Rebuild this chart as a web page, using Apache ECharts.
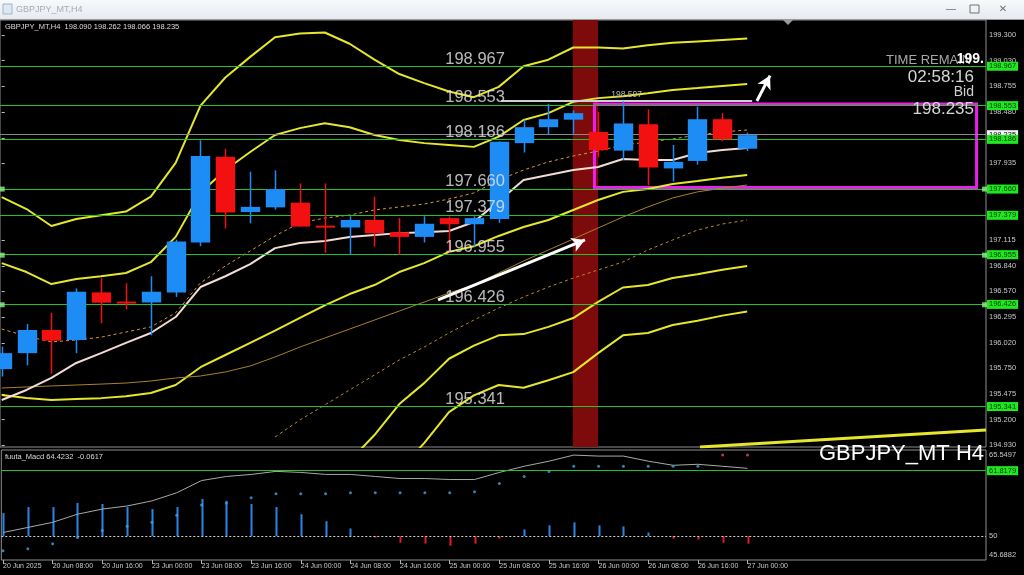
<!DOCTYPE html>
<html><head><meta charset="utf-8">
<script src="https://cdn.jsdelivr.net/npm/echarts@6/dist/echarts.min.js"></script>
<style>html,body{margin:0;padding:0;background:#000;overflow:hidden}#c{width:1024px;height:575px}</style>
</head><body><div id="c"></div><script>
// ---------- DATA ----------
const timeLabels = ['20 Jun 2025','20 Jun 08:00','20 Jun 16:00','23 Jun 00:00','23 Jun 08:00','23 Jun 16:00','24 Jun 00:00','24 Jun 08:00','24 Jun 16:00','25 Jun 00:00','25 Jun 08:00','25 Jun 16:00','26 Jun 00:00','26 Jun 08:00','26 Jun 16:00','27 Jun 00:00'];
const timeTickIdx = [0,2,4,6,8,10,12,14,16,18,20,22,24,26,28,30];
const priceTicks = [199.300,199.030,198.755,198.480,198.205,197.935,197.660,197.385,197.115,196.840,196.570,196.295,196.020,195.750,195.475,195.200,194.930];
const opens  = [195.74,195.91,196.157,196.05,196.558,196.46,196.45,196.558,197.09,198.005,197.415,197.465,197.515,197.27,197.25,197.33,197.20,197.15,197.35,197.285,197.34,198.15,198.32,198.40,198.27,198.07,198.35,197.88,197.96,198.405,198.090];
const highs  = [195.98,196.22,196.34,196.60,196.71,196.655,196.73,197.12,198.18,198.09,197.845,197.86,197.72,197.72,197.37,197.58,197.35,197.37,197.365,197.37,198.17,198.40,198.57,198.50,198.485,198.597,198.51,198.13,198.54,198.47,198.262];
const lows   = [195.66,195.78,195.69,195.91,196.23,196.377,196.10,196.51,197.05,197.24,197.295,197.44,197.26,196.98,196.96,197.045,196.96,197.09,196.98,197.045,197.30,198.05,198.24,198.25,198.00,197.97,197.70,197.74,197.92,198.17,198.066];
const closes = [195.91,196.157,196.043,196.565,196.448,196.44,196.565,197.10,198.012,197.41,197.47,197.66,197.26,197.25,197.33,197.19,197.15,197.29,197.285,197.35,198.165,198.32,198.405,198.47,198.075,198.36,197.89,197.95,198.405,198.19,198.235];
const bbMid  = [195.463,195.431,195.41,195.42,195.43,195.45,195.485,195.57,195.76,195.89,196.02,196.15,196.285,196.42,196.54,196.636,196.775,196.87,196.99,197.05,197.16,197.255,197.33,197.437,197.543,197.63,197.66,197.714,197.745,197.78,197.81];
const bbUp2  = [196.87,196.775,196.647,196.70,196.73,196.765,196.88,197.15,197.62,197.863,198.055,198.237,198.31,198.363,198.32,198.237,198.183,198.15,198.13,198.11,198.22,198.397,198.47,198.59,198.63,198.65,198.683,198.717,198.738,198.76,198.78];
const bbUp3  = [197.574,197.447,197.266,197.34,197.38,197.42,197.58,197.94,198.55,198.85,199.07,199.28,199.32,199.33,199.21,199.04,198.887,198.79,198.70,198.64,198.75,198.97,199.04,199.17,199.17,199.16,199.195,199.22,199.235,199.25,199.265];
const bbLo2  = [null,null,null,null,null,null,null,null,null,null,null,null,null,null,194.76,195.036,195.367,195.59,195.85,195.99,196.10,196.113,196.19,196.284,196.456,196.61,196.637,196.711,196.752,196.80,196.84];
const bbLo3  = [null,null,null,null,null,null,null,null,null,null,null,null,null,null,null,null,194.663,194.95,195.28,195.46,195.57,195.54,195.62,195.707,195.91,196.10,196.125,196.21,196.255,196.31,196.355];
const maWhite = [195.41,195.517,195.645,195.805,195.91,196.02,196.125,196.295,196.615,196.73,196.86,197.03,197.085,197.106,197.149,197.17,197.19,197.20,197.213,197.309,197.53,197.757,197.81,197.863,197.895,197.98,197.97,197.97,198.045,198.077,198.098];
const maDash  = [196.167,196.09,196.03,196.05,196.08,196.135,196.19,196.34,196.66,196.84,197.0,197.16,197.30,197.35,197.383,197.437,197.469,197.50,197.554,197.618,197.757,197.863,197.95,198.013,198.066,198.13,198.162,198.194,198.237,198.269,198.29];
const maThin  = [195.538,195.549,195.56,195.57,195.58,195.591,195.613,195.645,195.666,195.709,195.773,195.869,195.975,196.071,196.167,196.263,196.359,196.455,196.551,196.637,196.765,196.893,197.01,197.127,197.245,197.362,197.469,197.565,197.63,197.67,197.703];
const maDash2 = [null,null,null,null,null,null,null,null,null,null,null,195.015,195.197,195.357,195.517,195.677,195.837,195.975,196.125,196.263,196.391,196.509,196.615,196.711,196.797,196.882,197.01,197.117,197.223,197.287,197.33];
const longLineX = [28.1, 39.61];
const longLineY = [194.909, 195.09];
const levelValues = [198.967,198.553,198.186,197.660,197.379,196.955,196.426,195.341];
const handleLevels = [197.660,196.955,196.426];
const bidPrice = 198.235;
const highMark = 198.597;
const macdLine = [50.65,51.57,52.49,53.96,54.88,55.44,56.36,57.83,60.03,60.77,61.14,61.69,61.50,61.14,61.14,60.77,60.40,60.40,60.22,60.22,61.50,62.61,63.53,64.63,64.45,64.45,63.53,62.79,62.97,62.61,62.24];
const macdDots = [47.34,47.71,48.63,49.73,51.02,51.76,52.49,53.78,55.62,55.99,56.91,57.64,57.64,57.64,57.83,57.83,57.83,57.83,57.83,58.01,59.48,60.77,61.69,62.61,62.61,62.61,62.61,62.61,62.61,64.63,64.63];
const macdDotAlert = [0,0,0,0,0,0,0,0,0,0,0,0,0,0,0,0,0,0,0,0,0,0,0,0,0,0,0,0,0,1,1];
const macdHist = [54.15,55.25,55.25,55.99,55.80,55.25,54.88,55.25,56.72,56.36,55.80,55.25,53.96,52.68,51.39,49.73,48.81,48.63,48.26,48.63,49.55,51.21,51.94,52.49,51.94,51.76,50.65,49.55,49.37,48.81,48.63];
const macdTicks = [65.5497,50,45.6882];
const macdLevel = 61.8179;
const macdBase = 50;

// ---------- LAYOUT CONSTANTS ----------
const X_MIN = -0.0684, X_MAX = 39.61;
const FONT = 'Liberation Sans';
const BLUE = '#1e8cf5', RED = '#f21010', YEL = '#e6e62c', GRN = '#24c424', BOX = '#1ee81e';

const pairs = a => a.map((v,i)=>[i,v]).filter(d=>d[1]!=null);

function lineSeries(name, arr, color, width, type, z){
  return {name, type:'line', xAxisIndex:0, yAxisIndex:0, data:pairs(arr), showSymbol:false, silent:true,
    lineStyle:{color, width, type:type||'solid'}, z:z||3, animation:false, clip:true};
}

const chart = echarts.init(document.getElementById('c'), null, {renderer:'canvas', width:1024, height:575});

const option = {
  backgroundColor:'#000000',
  animation:false,
  grid:[
    {left:0, top:20, width:986, height:427, show:true, borderColor:'#8e8e8e', borderWidth:1, backgroundColor:'#000'},
    {left:0, top:450, width:986, height:110, show:true, borderColor:'#8e8e8e', borderWidth:1, backgroundColor:'#000'}
  ],
  xAxis:[
    {type:'value', gridIndex:0, min:X_MIN, max:X_MAX, show:false, splitLine:{show:false}},
    {type:'value', gridIndex:1, min:X_MIN, max:X_MAX, position:'bottom',
      axisLine:{show:false}, splitLine:{show:false},
      axisTick:{show:true, length:4, lineStyle:{color:'#b0b0b0'}, customValues:timeTickIdx},
      axisLabel:{show:true, customValues:timeTickIdx, align:'left', margin:3, color:'#c8c8c8', fontSize:7, fontFamily:FONT,
        formatter:v=>timeLabels[Math.round(v/2)]}}
  ],
  yAxis:[
    {type:'value', gridIndex:0, position:'right', min:194.9087, max:199.4633,
      axisLine:{show:false}, splitLine:{show:false},
      axisTick:{show:true, length:3, lineStyle:{color:'#c0c0c0'}, customValues:priceTicks},
      axisLabel:{show:true, customValues:priceTicks, margin:3, color:'#c8c8c8', fontSize:7.5, fontFamily:FONT, formatter:v=>v.toFixed(3)}},
    {type:'value', gridIndex:1, position:'right', min:45.6882, max:65.5497,
      axisLine:{show:false}, splitLine:{show:false},
      axisTick:{show:false},
      axisLabel:{show:true, customValues:macdTicks, margin:3, color:'#c8c8c8', fontSize:7.5, fontFamily:FONT,
        formatter:v=> v===65.5497 ? '{t|65.5497}' : (v===45.6882 ? '{b|45.6882}' : String(v)),
        rich:{t:{padding:[10,0,0,0], color:'#c8c8c8', fontSize:7.5, fontFamily:FONT}, b:{padding:[0,0,10,0], color:'#c8c8c8', fontSize:7.5, fontFamily:FONT}}}}
  ],
  series:[
    {type:'line', xAxisIndex:0, yAxisIndex:0, data:[], z:1, silent:true,
      markArea:{silent:true, itemStyle:{color:'#7e0b0b'}, data:[[{xAxis:22.98},{xAxis:24.0}]]}},
    {type:'line', xAxisIndex:0, yAxisIndex:0, data:[], z:2, silent:true,
      markLine:{silent:true, symbol:['none','none'], animation:false,
        lineStyle:{color:'#8a8a8a', width:1, type:'solid'},
        label:{show:true, position:'end', distance:1, formatter:()=>bidPrice.toFixed(3), backgroundColor:'#f4f4f4', color:'#000', fontSize:7.5, fontFamily:FONT, padding:[1,2,0,2]},
        data:[{yAxis:bidPrice}]}},
    {type:'line', xAxisIndex:0, yAxisIndex:0, data:[], z:2, silent:true,
      markLine:{silent:true, symbol:['none','none'], animation:false,
        lineStyle:{color:GRN, width:1, type:'solid'},
        label:{show:true, position:'end', distance:1, formatter:p=>levelValues[p.dataIndex].toFixed(3), backgroundColor:BOX, color:'#063006', fontSize:7.5, fontFamily:FONT, padding:[1,2,0,2]},
        data:levelValues.map(v=>({yAxis:v}))}},
    {type:'line', xAxisIndex:0, yAxisIndex:0, data:[], z:4, silent:true,
      markLine:{silent:true, symbol:['none','none'], animation:false,
        lineStyle:{color:'#cfcfcf', width:2, type:'solid'},
        label:{show:true, position:'insideMiddleTop', distance:2, formatter:()=>highMark.toFixed(3), color:'#bdbdbd', fontSize:8.5, fontFamily:FONT},
        data:[[{coord:[20.1,highMark]},{coord:[30.2,highMark]}]]}},
    lineSeries('bbUp3', bbUp3, YEL, 2),
    lineSeries('bbUp2', bbUp2, YEL, 2),
    lineSeries('bbMid', bbMid, YEL, 2),
    lineSeries('bbLo2', bbLo2, YEL, 2),
    lineSeries('bbLo3', bbLo3, YEL, 2),
    lineSeries('maThin', maThin, '#a8822a', 1),
    lineSeries('maDash2', maDash2, '#b8882c', 1, [3,3]),
    lineSeries('maDash', maDash, '#d89a34', 1, [3,3]),
    lineSeries('maWhite', maWhite, '#f3dcd6', 2, 'solid', 4),
    {type:'line', xAxisIndex:0, yAxisIndex:0, data:longLineX.map((x,i)=>[x,longLineY[i]]), showSymbol:false, silent:true,
      lineStyle:{color:YEL, width:3}, z:3},
    {type:'custom', xAxisIndex:0, yAxisIndex:0, z:5, silent:true, clip:true,
      data:opens.map((o,i)=>[i,o,closes[i],lows[i],highs[i]]),
      encode:{x:0, y:[1,2,3,4]},
      renderItem:(params, api)=>{
        const k=api.value(0), o=api.value(1), c=api.value(2), l=api.value(3), h=api.value(4);
        const pO=api.coord([k,o]), pC=api.coord([k,c]), pL=api.coord([k,l]), pH=api.coord([k,h]);
        const w=api.size([1,0])[0]*0.78;
        const col = c>=o ? BLUE : RED;
        const top=Math.min(pO[1],pC[1]), bot=Math.max(pO[1],pC[1]);
        const cx=Math.round(pO[0])+0.5;
        return {type:'group', children:[
          {type:'line', shape:{x1:cx,y1:pH[1],x2:cx,y2:pL[1]}, style:{stroke:col,lineWidth:1.5}},
          {type:'rect', shape:{x:cx-w/2,y:top,width:w,height:Math.max(2,bot-top)}, style:{fill:col}}
        ]};
      }},
    {type:'scatter', xAxisIndex:0, yAxisIndex:0, z:6, silent:true, symbolSize:0,
      data:levelValues.map(v=>[19.05,v]),
      label:{show:true, position:'top', distance:0, offset:[0,1], formatter:p=>levelValues[p.dataIndex].toFixed(3), color:'#e6e6e6', fontSize:16.5, fontFamily:FONT}},
    {type:'scatter', xAxisIndex:0, yAxisIndex:0, z:6, silent:true, symbol:'rect', symbolSize:5,
      itemStyle:{color:'#8ef08e'},
      data:handleLevels.map(v=>[0.02,v]).concat(handleLevels.map(v=>[39.55,v]))},
    {type:'line', xAxisIndex:0, yAxisIndex:0, data:[], z:7, silent:true,
      markArea:{silent:true, itemStyle:{color:'rgba(0,0,0,0)', borderColor:'#ee1cee', borderWidth:3},
        data:[[{coord:[23.855,198.567]},{coord:[39.23,197.677]}]]}},
    {type:'line', xAxisIndex:0, yAxisIndex:0, data:[], z:8, silent:true,
      markLine:{silent:true, animation:false, symbol:['none','arrow'], symbolSize:[11,13],
        lineStyle:{color:'#ffffff', width:3, type:'solid'}, label:{show:false},
        data:[[{coord:[17.56,196.477]},{coord:[23.47,197.117]}],[{coord:[30.39,198.60]},{coord:[30.92,198.87]}]]}},
    {type:'line', xAxisIndex:1, yAxisIndex:1, data:[], z:2, silent:true,
      markLine:{silent:true, symbol:['none','none'], animation:false,
        data:[
          {yAxis:macdLevel, lineStyle:{color:GRN,width:1,type:'solid'}, label:{show:true, position:'end', distance:1, formatter:()=>macdLevel.toFixed(4), backgroundColor:BOX, color:'#063006', fontSize:7.5, fontFamily:FONT, padding:[1,2,0,2]}},
          {yAxis:macdBase, lineStyle:{color:'#d0d0d0',width:1,type:[2,2]}, label:{show:false}}
        ]}},
    {type:'custom', xAxisIndex:1, yAxisIndex:1, z:3, silent:true,
      data:macdHist.map((v,i)=>[i,v]),
      renderItem:(params, api)=>{
        const k=api.value(0), v=api.value(1);
        const p0=api.coord([k,macdBase]), p1=api.coord([k,v]);
        const cx=Math.round(p0[0])+0.5;
        return {type:'line', shape:{x1:cx,y1:p0[1],x2:cx,y2:p1[1]}, style:{stroke: v>=macdBase? '#2a86e6':'#e61a1a', lineWidth:2}};
      }},
    {type:'line', xAxisIndex:1, yAxisIndex:1, data:pairs(macdLine), showSymbol:false, silent:true, z:4,
      lineStyle:{color:'#a9a9a9', width:1}},
    {type:'scatter', xAxisIndex:1, yAxisIndex:1, z:5, silent:true, symbolSize:3,
      data:macdDots.map((v,i)=>({value:[i,v], itemStyle:{color: macdDotAlert[i]? '#e0409a':'#3fa2e2'}}))}
  ],
  graphic:[
    {type:'rect', left:0, top:0, shape:{width:1024,height:19}, style:{fill:new echarts.graphic.LinearGradient(0,0,0,1,[{offset:0,color:'#f7f9fb'},{offset:1,color:'#e6eaef'}])}, z:100},
    {type:'line', shape:{x1:0,y1:19.5,x2:1024,y2:19.5}, style:{stroke:'#9a9a9a',lineWidth:1}, z:100},
    {type:'rect', shape:{x:3,y:4,width:9,height:10}, style:{fill:'#dfe7f1', stroke:'#9fb3c8', lineWidth:1}, z:101},
    {type:'text', x:16, y:10, style:{text:'GBPJPY_MT,H4', fill:'#a5acb5', font:'9px '+FONT, verticalAlign:'middle'}, z:101},
    {type:'text', x:951, y:9, style:{text:'—', fill:'#707070', font:'10px '+FONT, align:'center', verticalAlign:'middle'}, z:101},
    {type:'rect', shape:{x:970,y:5,width:9,height:8}, style:{fill:'none', stroke:'#707070', lineWidth:1}, z:101},
    {type:'text', x:1003, y:9, style:{text:'✕', fill:'#707070', font:'10px DejaVu Sans', align:'center', verticalAlign:'middle'}, z:101},
    {type:'text', x:5, y:27, style:{text:'GBPJPY_MT,H4  '+[opens[30],highs[30],lows[30],closes[30]].map(v=>v.toFixed(3)).join(' '), fill:'#dcdcdc', font:'7.5px '+FONT, verticalAlign:'middle'}, z:101},
    {type:'text', x:5, y:457, style:{text:'fuuta_Macd 64.4232  -0.0617', fill:'#dcdcdc', font:'7.5px '+FONT, verticalAlign:'middle'}, z:101},
    {type:'polygon', shape:{points:[[783,20],[793,20],[788,25]]}, style:{fill:'#9a9a9a'}, z:101},
    {type:'text', x:886, y:60, style:{text:'TIME REMAINING', width:90, overflow:'truncate', ellipsis:'', fill:'#a8a8a8', font:'13px '+FONT, verticalAlign:'middle'}, z:101},
    {type:'text', x:984, y:59, style:{text:'199.', fill:'#ffffff', font:'bold 14px '+FONT, align:'right', verticalAlign:'middle'}, z:102},
    {type:'text', x:974, y:77.5, style:{text:'02:58:16', fill:'#d6d6d6', font:'17px '+FONT, align:'right', verticalAlign:'middle'}, z:101},
    {type:'text', x:974, y:92, style:{text:'Bid', fill:'#cfcfcf', font:'14px '+FONT, align:'right', verticalAlign:'middle'}, z:101},
    {type:'text', x:974, y:109, style:{text:closes[30].toFixed(3), fill:'#d6d6d6', font:'17px '+FONT, align:'right', verticalAlign:'middle'}, z:101},
    {type:'text', x:984, y:443, style:{text:'GBPJPY_MT H4', fill:'#ffffff', font:'22px '+FONT, align:'right', verticalAlign:'alphabetic'}, z:101}
  ]
};
chart.setOption(option);
</script></body></html>
